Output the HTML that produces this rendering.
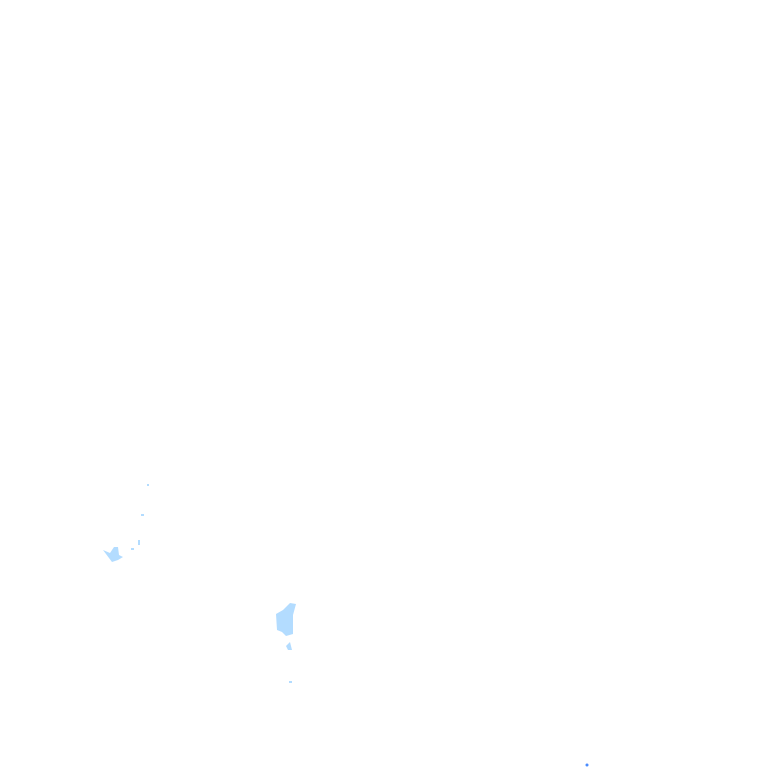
<!DOCTYPE html>
<html><head><meta charset="utf-8"><style>html,body{margin:0;padding:0;background:#fff;width:768px;height:768px;overflow:hidden}</style></head>
<body>
<svg width="768" height="768" xmlns="http://www.w3.org/2000/svg">
<rect width="768" height="768" fill="#fff"/>
<g fill="#b3dcff">
<path d="M103 550 L110 553 L114 547 L118 547 L119 555 L123 557 L118 560 L112 562 Z"/>
<rect x="131" y="548" width="3" height="2"/>
<rect x="138" y="540" width="2" height="5"/>
<rect x="141" y="514" width="3" height="2"/>
<rect x="147" y="484" width="2" height="2"/>
<path d="M276 614 L283 610 L290 603 L296 604 L293 615 L293 634 L286 636 L282 632 L277 630 Z"/>
<path d="M286 646 L290 642 L292 650 L288 650 Z"/>
<rect x="289" y="681" width="3" height="2"/>
</g>
<circle cx="587" cy="765" r="1.5" fill="#4a8cff"/>
</svg>
</body></html>
